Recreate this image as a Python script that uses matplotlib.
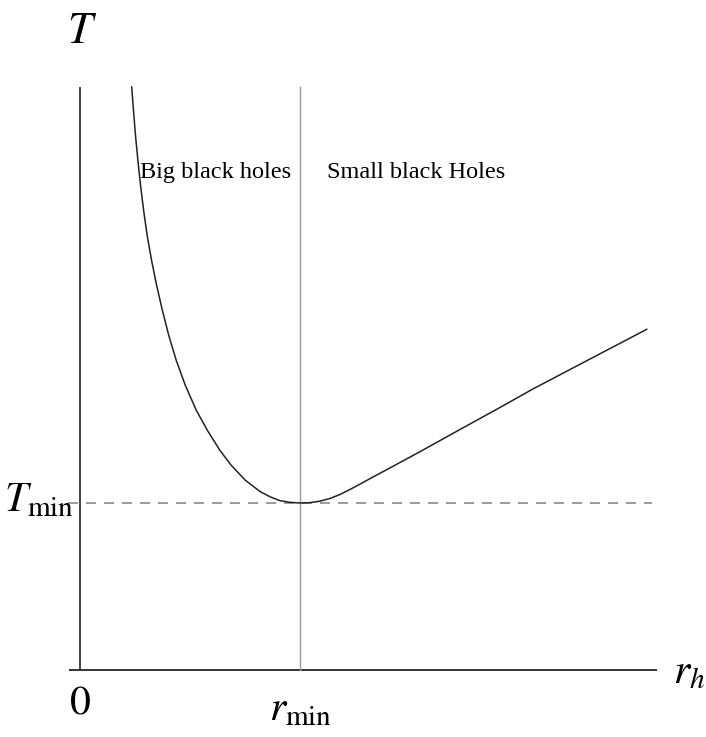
import matplotlib.pyplot as plt

plt.rcParams['mathtext.fontset'] = 'stix'
plt.rcParams['font.family'] = ['Liberation Serif', 'DejaVu Serif']

# temperature vs horizon radius, in units of r_min and T_min
r_curve = [0.235, 0.243, 0.252, 0.263, 0.275, 0.289, 0.305, 0.325, 0.348, 0.374,
           0.403, 0.437, 0.478, 0.528, 0.578, 0.635, 0.686, 0.750, 0.818, 0.864,
           0.909, 0.955, 1.0, 1.045, 1.091, 1.136, 1.182, 1.227, 1.273, 1.332,
           1.409, 1.545, 1.727, 1.909, 2.059, 2.318, 2.576]
T_curve = [3.491, 3.353, 3.204, 3.054, 2.904, 2.754, 2.605, 2.455, 2.305, 2.156,
           2.006, 1.856, 1.707, 1.557, 1.437, 1.317, 1.228, 1.138, 1.069, 1.037,
           1.014, 1.004, 1.0, 1.002, 1.011, 1.027, 1.051, 1.081, 1.113, 1.156,
           1.210, 1.307, 1.440, 1.572, 1.683, 1.862, 2.040]
r_min = 1.0
T_min = 1.0
region_labels = ['Big black holes', 'Small black Holes']

W, H = 706, 737
x0, y0 = 80, 670       # pixel position of the origin
sx, sy = 220.0, 167.0  # pixels per unit


def px(x, y):
    return (x - x0) / sx, (y0 - y) / sy


fig = plt.figure(figsize=(W / 100, H / 100), dpi=100)
ax = fig.add_axes([0, 0, 1, 1])
ax.set_xlim(-x0 / sx, (W - x0) / sx)
ax.set_ylim((y0 - H) / sy, y0 / sy)
ax.axis('off')

top = px(0, 87)[1]
right = px(657, 0)[0]
left = px(69, 0)[0]

# axes
ax.plot([left, right], [0, 0], color='#333333', lw=1.4, solid_capstyle='butt')
ax.plot([0, 0], [0, top], color='#333333', lw=1.3, solid_capstyle='butt')

# guides at the minimum
ax.plot([r_min, r_min], [0, top], color='#9a9a9a', lw=1.0)
ax.plot([px(68, 0)[0], px(652, 0)[0]], [T_min, T_min], color='#8a8a8a', lw=1.2,
        linestyle=(0, (6, 4.8)))

ax.plot(r_curve, T_curve, color='#222222', lw=1.1, solid_joinstyle='round')

ax.text(*px(82, 32), r'$T$', fontsize=32, ha='center', va='center')
ax.text(*px(74, 511), r'$T_{\rm min}$', fontsize=30, ha='right', va='baseline')
ax.text(*px(80, 703), r'$0$', fontsize=30, ha='center', va='center')
ax.text(*px(301, 720), r'$r_{\rm min}$', fontsize=30, ha='center', va='baseline')
ax.text(*px(673, 683), r'$r_h$', fontsize=30, ha='left', va='baseline')

ax.text(*px(140, 178), region_labels[0], fontsize=17.5, ha='left', va='baseline')
ax.text(*px(327, 178), region_labels[1], fontsize=17.5, ha='left', va='baseline')

fig.savefig('out.png', dpi=100)
